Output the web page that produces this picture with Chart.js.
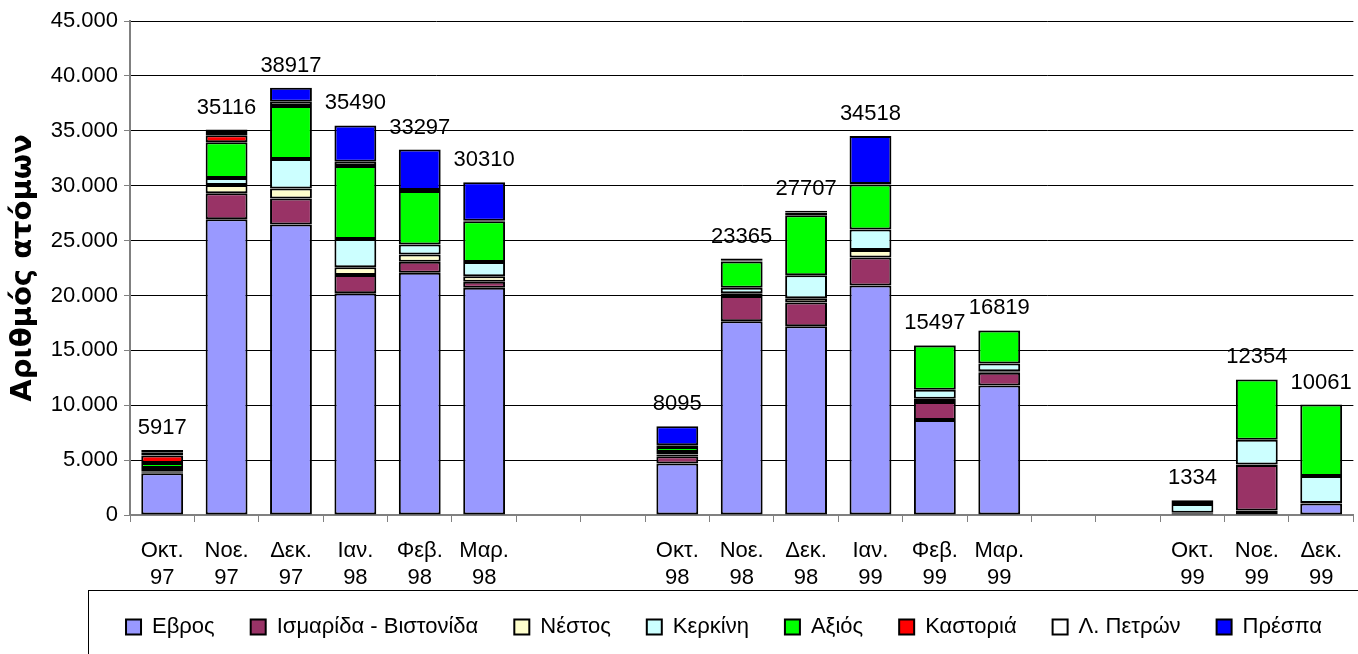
<!DOCTYPE html>
<html lang="el">
<head>
<meta charset="utf-8">
<title>Αριθμός ατόμων</title>
<script src="https://cdn.jsdelivr.net/npm/chart.js@4.4.0/dist/chart.umd.min.js"></script>
<style>
  html, body { margin: 0; padding: 0; background: #fff; }
  #wrap { position: relative; width: 1358px; height: 654px; }
</style>
</head>
<body>
<div id="wrap"><canvas id="birdsChart"></canvas></div>
<script>
  // Categories (empty strings = gaps between seasons)
  const months = ["Οκτ.", "Νοε.", "Δεκ.", "Ιαν.", "Φεβ.", "Μαρ.", "", "", "Οκτ.", "Νοε.", "Δεκ.", "Ιαν.", "Φεβ.", "Μαρ.", "", "", "Οκτ.", "Νοε.", "Δεκ."];
  const years = ["97", "97", "97", "98", "98", "98", "", "", "98", "98", "98", "99", "99", "99", "", "", "99", "99", "99"];

  // Series values (number of birds per wetland)
  const evros = [3800, 26950, 26470, 20190, 22070, 20700, null, null, 4700, 17650, 17200, 20900, 8650, 11800, null, null, 150, 400, 1050];
  const ismarida = [100, 2350, 2370, 1670, 1000, 550, null, null, 650, 2300, 2150, 2550, 1650, 1150, null, null, 50, 4150, 0];
  const nestos = [80, 750, 910, 700, 670, 500, null, null, 150, 250, 400, 700, 300, 150, null, null, 0, 50, 50];
  const kerkini = [300, 650, 2670, 2580, 910, 1300, null, null, 250, 500, 2100, 1850, 800, 700, null, null, 800, 2250, 2450];
  const axios = [450, 3250, 4830, 6650, 4860, 3700, null, null, 450, 2400, 5450, 4100, 4050, 3000, null, null, 334, 5500, 6511];
  const kastoria = [700, 650, 0, 0, 0, 0, null, null, 0, 0, 0, 0, 0, 0, null, null, 0, 0, 0];
  const petron = [250, 200, 400, 400, 100, 50, null, null, 150, 100, 250, 50, 0, 19, null, null, 0, 0, 0];
  const prespa = [237, 316, 1267, 3300, 3687, 3510, null, null, 1745, 165, 157, 4368, 47, 0, null, null, 0, 4, 0];

  // Totals printed above each bar
  const totals = [5917, 35116, 38917, 35490, 33297, 30310, null, null, 8095, 23365, 27707, 34518, 15497, 16819, null, null, 1334, 12354, 10061];

  // Y axis ticks
  const yMin = 0;
  const yMax = 45000;
  const yStep = 5000;

  const labels = months.map(function (m, i) { return m ? [m, years[i]] : ""; });

  function series(label, data, color) {
    return {
      label: label,
      data: data,
      backgroundColor: color,
      borderColor: "#000000",
      borderWidth: 2,
      borderSkipped: false,
      categoryPercentage: 1,
      barPercentage: 0.65
    };
  }

  // Draw totals above the stacked bars
  const totalsPlugin = {
    id: "totals",
    afterDatasetsDraw(chart) {
      const ctx = chart.ctx;
      const yScale = chart.scales.y;
      const meta = chart.getDatasetMeta(0);
      ctx.save();
      ctx.font = "22px 'Liberation Sans', Arial, sans-serif";
      ctx.fillStyle = "#000";
      ctx.textAlign = "center";
      ctx.textBaseline = "middle";
      totals.forEach(function (t, i) {
        if (t == null) return;
        let sum = 0;
        chart.data.datasets.forEach(function (ds) { sum += ds.data[i] || 0; });
        const x = meta.data[i].x;
        const y = yScale.getPixelForValue(sum) - 22;
        ctx.fillText(String(t), x, y);
      });
      ctx.restore();
    }
  };

  // Legend frame like the original spreadsheet chart
  const legendFrame = {
    id: "legendFrame",
    afterLayout(chart) {
      chart.legend.left = 90;
      chart.legend.top = 580;
    },
    afterDraw(chart) {
      const ctx = chart.ctx;
      ctx.save();
      ctx.strokeStyle = "#000";
      ctx.lineWidth = 1;
      ctx.strokeRect(88.5, 590.5, 1400, 100);
      ctx.restore();
    }
  };

  Chart.defaults.font.family = "'Liberation Sans', Arial, sans-serif";
  Chart.defaults.font.size = 22;
  Chart.defaults.color = "#000";

  new Chart(document.getElementById("birdsChart"), {
    type: "bar",
    data: {
      labels: labels,
      datasets: [
        series("Εβρος", evros, "#9999FF"),
        series("Ισμαρίδα - Βιστονίδα", ismarida, "#993366"),
        series("Νέστος", nestos, "#FFFFCC"),
        series("Κερκίνη", kerkini, "#CCFFFF"),
        series("Αξιός", axios, "#00FF00"),
        series("Καστοριά", kastoria, "#FF0000"),
        series("Λ. Πετρών", petron, "#FFFFFF"),
        series("Πρέσπα", prespa, "#0000FF")
      ]
    },
    options: {
      responsive: true,
      maintainAspectRatio: false,
      animation: false,
      layout: { padding: { top: 21, right: 0, bottom: 0, left: 0 } },
      plugins: {
        tooltip: { enabled: false },
        legend: {
          position: "bottom",
          labels: {
            boxWidth: 15,
            boxHeight: 15,
            padding: 36,
            color: "#000",
            font: { size: 22 }
          }
        }
      },
      scales: {
        x: {
          stacked: true,
          afterFit: function (scale) { scale.height = 71; },
          border: { color: "#808080", width: 2 },
          grid: {
            offset: true,
            drawOnChartArea: false,
            drawTicks: true,
            tickLength: 7,
            color: "#808080"
          },
          ticks: {
            maxRotation: 0,
            autoSkip: false,
            padding: 16,
            font: { size: 22 }
          }
        },
        y: {
          stacked: true,
          min: yMin,
          max: yMax,
          afterFit: function (scale) { scale.width = 130; },
          border: { color: "#808080", width: 2 },
          grid: {
            color: "#000",
            lineWidth: 1,
            tickLength: 6,
            tickColor: "#808080"
          },
          ticks: {
            stepSize: yStep,
            padding: 6,
            font: { size: 22 },
            callback: function (v) {
              return String(v).replace(/\B(?=(\d{3})+(?!\d))/g, ".");
            }
          },
          title: {
            display: true,
            text: "Αριθμός ατόμων",
            color: "#000",
            font: { family: "'DejaVu Sans', sans-serif", size: 29, weight: "bold" },
            padding: { top: 6, bottom: 0 }
          }
        }
      }
    },
    plugins: [totalsPlugin, legendFrame]
  });
</script>
</body>
</html>
